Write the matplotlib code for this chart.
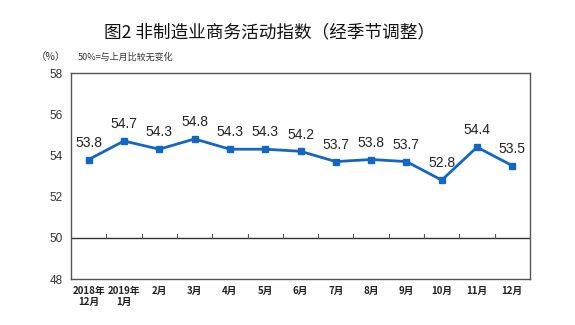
import numpy as np
import matplotlib.pyplot as plt

plt.rcParams['font.family'] = ['Noto Sans CJK SC', 'DejaVu Sans']

months = ['2018年\n12月', '2019年\n1月', '2月', '3月', '4月', '5月', '6月',
          '7月', '8月', '9月', '10月', '11月', '12月']
values = [53.8, 54.7, 54.3, 54.8, 54.3, 54.3, 54.2, 53.7, 53.8, 53.7, 52.8, 54.4, 53.5]
yticks = [48, 50, 52, 54, 56, 58]

fig = plt.figure(figsize=(5.75, 3.25), dpi=100)
ax = fig.add_axes([71/575, 1 - 279/325, 459/575, 206/325])

x = np.arange(len(values))
ax.plot(x, values, color='#1466c0', lw=2, marker='s', ms=4.5, zorder=3)
for xi, v in zip(x, values):
    ax.annotate(f'{v:.1f}', (xi, v), xytext=(0, 7), textcoords='offset points',
                ha='center', va='bottom', fontsize=10, family='Liberation Sans',
                color='#222222')

ax.set_xlim(-0.5, len(values) - 0.5)
ax.set_ylim(48, 58)
ax.set_yticks(yticks)
ax.set_yticklabels([str(t) for t in yticks], fontsize=8.5, color='#333333',
                   family='Liberation Sans')
ax.tick_params(axis='y', length=0, pad=6)

ax.set_xticks(x)
ax.set_xticklabels(months, fontsize=7, color='#222222', fontweight='bold', linespacing=1.1)
ax.tick_params(axis='x', length=0, pad=5)

# zero-change line at 50 with small ticks between categories
ax.axhline(50, color='#333333', lw=1, zorder=2)
for b in np.arange(0.5, len(values) - 1, 1):
    ax.plot([b, b], [50, 50.2], color='#555555', lw=0.8, zorder=2)

for s in ax.spines.values():
    s.set_color('#555555')
    s.set_linewidth(1)

fig.text(269/575, 1 - 32/325, '图2 非制造业商务活动指数（经季节调整）', ha='center', va='center',
         fontsize=12.7, fontweight='medium', color='#111111')
fig.text(51/575, 1 - 57/325, '（%）', ha='center', va='center', fontsize=7.5, color='#333333')
fig.text(78/575, 1 - 57/325, '50%=与上月比较无变化', ha='left', va='center', fontsize=6.5,
         color='#333333')

fig.savefig('out.png', dpi=100)
